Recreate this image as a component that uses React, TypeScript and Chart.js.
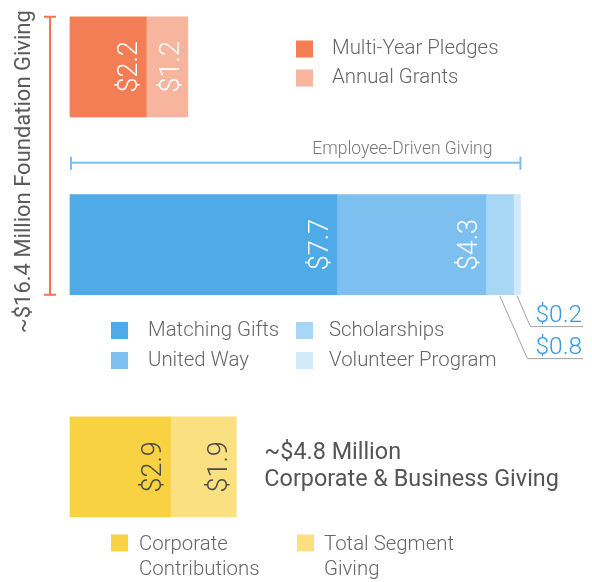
import React, { useEffect, useRef } from "react";
import { Chart, registerables } from "chart.js";

Chart.register(...registerables);

// Category rows (blank entries are spacer rows between the three bars)
const categories = [
  "Foundation Giving", "", "", "",
  "Employee-Driven Giving", "", "", "", "",
  "Corporate & Business Giving",
];

const foundationLabels = ["Multi-Year Pledges", "Annual Grants"];
const foundationValues = [2.2, 1.2];
const foundationColors = ["#F37D54", "#F6B59C"];

const employeeLabels = ["Matching Gifts", "United Way", "Scholarships", "Volunteer Program"];
const employeeValues = [7.7, 4.3, 0.8, 0.2];
const employeeColors = ["#4FAAE8", "#7DC0F0", "#A8D6F5", "#D2E9FA"];

const corporateLabels = ["Corporate Contributions", "Total Segment Giving"];
const corporateValues = [2.9, 1.9];
const corporateColors = ["#F9D244", "#FBE081"];

const FONT = "Roboto, 'Liberation Sans', Arial, sans-serif";

type Group = {
  row: number;
  labels: string[];
  values: number[];
  colors: string[];
  textColor: string;
};

const groups: Group[] = [
  { row: categories.indexOf("Foundation Giving"), labels: foundationLabels, values: foundationValues, colors: foundationColors, textColor: "#ffffff" },
  { row: categories.indexOf("Employee-Driven Giving"), labels: employeeLabels, values: employeeValues, colors: employeeColors, textColor: "#ffffff" },
  { row: categories.indexOf("Corporate & Business Giving"), labels: corporateLabels, values: corporateValues, colors: corporateColors, textColor: "#4a4a4a" },
];

const money = (v: number) => "$" + v.toFixed(1);

// legend layouts (positions only)
const legendLayouts = [
  { cols: [296], textGap: [19], rows: [49, 78], perCol: 2, lineH: 25, wrap: 1000 },
  { cols: [111, 296], textGap: [20, 16], rows: [330.5, 360.5], perCol: 2, lineH: 25, wrap: 1000 },
  { cols: [111, 297], textGap: [11, 10], rows: [545], perCol: 1, lineH: 25, wrap: 140 },
];

const infographicPlugin = {
  id: "infographic",
  afterDraw(chart: any) {
    const ctx: CanvasRenderingContext2D = chart.ctx;
    ctx.save();

    const segs = chart.data.datasets.map((ds: any, di: number) => {
      const bar = chart.getDatasetMeta(di).data[ds.row];
      const p = bar.getProps(["x", "y", "base", "height"], true);
      return {
        ds,
        x0: Math.min(p.base, p.x),
        x1: Math.max(p.base, p.x),
        yc: p.y,
        top: p.y - p.height / 2,
        bottom: p.y + p.height / 2,
      };
    });
    const groupSegs = groups.map((_, gi) => segs.filter((s: any) => s.ds.groupIndex === gi));

    // value labels inside segments
    segs.forEach((s: any) => {
      const w = s.x1 - s.x0;
      if (w < 35) return;
      ctx.save();
      ctx.translate(s.x1 - 9, s.yc);
      ctx.rotate(-Math.PI / 2);
      ctx.font = `300 27px ${FONT}`;
      ctx.fillStyle = groups[s.ds.groupIndex].textColor;
      ctx.textAlign = "center";
      ctx.textBaseline = "alphabetic";
      ctx.fillText(money(s.ds.value), 0, 0);
      ctx.restore();
    });

    // callouts for thin segments
    groupSegs.forEach((gs: any[]) => {
      const small = gs.filter((s) => s.x1 - s.x0 < 35).reverse();
      if (!small.length) return;
      const barEnd = Math.max(...gs.map((s) => s.x1));
      small.forEach((s, k) => {
        const midX = (s.x0 + s.x1) / 2;
        const elbowY = s.bottom + 32 + 32 * k;
        const elbowX = barEnd + 10 - 3 * k;
        const textX = barEnd + 15;
        ctx.font = `300 24.5px ${FONT}`;
        const tw = ctx.measureText(money(s.ds.value)).width;
        ctx.strokeStyle = "#a0a0a0";
        ctx.lineWidth = 1;
        ctx.beginPath();
        ctx.moveTo(midX, s.bottom + 1);
        ctx.lineTo(elbowX, elbowY);
        ctx.lineTo(textX + tw + 1, elbowY);
        ctx.stroke();
        ctx.fillStyle = "#3399E6";
        ctx.textAlign = "left";
        ctx.textBaseline = "alphabetic";
        ctx.fillText(money(s.ds.value), textX, elbowY - 5);
      });
    });

    // Foundation bracket (orange) spanning foundation + employee bars
    const fTop = groupSegs[0][0].top;
    const fBottom = groupSegs[1][0].bottom;
    const bx = 50;
    ctx.strokeStyle = "#F3744B";
    ctx.lineWidth = 2;
    ctx.beginPath();
    ctx.moveTo(bx, fTop);
    ctx.lineTo(bx, fBottom);
    ctx.moveTo(bx - 6, fTop);
    ctx.lineTo(bx + 6, fTop);
    ctx.moveTo(bx - 6, fBottom);
    ctx.lineTo(bx + 6, fBottom);
    ctx.stroke();

    const foundationTotal = [...foundationValues, ...employeeValues].reduce((a, b) => a + b, 0);
    ctx.save();
    ctx.translate(30, (fTop + fBottom) / 2 + 16);
    ctx.rotate(-Math.PI / 2);
    ctx.font = `400 22px ${FONT}`;
    ctx.fillStyle = "#5a5a5a";
    ctx.textAlign = "center";
    ctx.textBaseline = "alphabetic";
    ctx.fillText(`~$${foundationTotal.toFixed(1)} Million ${categories[groups[0].row]}`, 0, 0);
    ctx.restore();

    // Employee-driven bracket (blue)
    const eSegs = groupSegs[1];
    const ex0 = Math.min(...eSegs.map((s: any) => s.x0)) + 1;
    const ex1 = Math.max(...eSegs.map((s: any) => s.x1));
    const ey = eSegs[0].top - 32;
    ctx.strokeStyle = "#7ABEEF";
    ctx.lineWidth = 2;
    ctx.beginPath();
    ctx.moveTo(ex0, ey);
    ctx.lineTo(ex1, ey);
    ctx.moveTo(ex0, ey - 6);
    ctx.lineTo(ex0, ey + 7);
    ctx.moveTo(ex1, ey - 6);
    ctx.lineTo(ex1, ey + 7);
    ctx.stroke();
    ctx.font = `300 17.5px ${FONT}`;
    ctx.fillStyle = "#777777";
    ctx.textAlign = "right";
    ctx.textBaseline = "alphabetic";
    ctx.fillText(categories[groups[1].row], ex1 - 28, ey - 9);

    // Corporate total text
    const cSegs = groupSegs[2];
    const cx1 = Math.max(...cSegs.map((s: any) => s.x1));
    const corpTotal = corporateValues.reduce((a, b) => a + b, 0);
    ctx.font = `400 23.4px ${FONT}`;
    ctx.fillStyle = "#555555";
    ctx.textAlign = "left";
    ctx.textBaseline = "middle";
    ctx.fillText(`~$${corpTotal.toFixed(1)} Million`, cx1 + 28, cSegs[0].yc - 14);
    ctx.fillText(categories[groups[2].row], cx1 + 28, cSegs[0].yc + 13);

    // legends
    groups.forEach((g, gi) => {
      const lay = legendLayouts[gi];
      g.labels.forEach((label, si) => {
        const col = Math.floor(si / lay.perCol);
        const row = si % lay.perCol;
        const sx = lay.cols[col];
        const cy = lay.rows[row];
        ctx.fillStyle = g.colors[si];
        ctx.fillRect(sx, cy - 8.5 - (lay.perCol === 1 ? 2 : 0), 17, 17);
        ctx.font = `300 20.4px ${FONT}`;
        ctx.fillStyle = "#666666";
        ctx.textAlign = "left";
        ctx.textBaseline = "middle";
        const words = label.split(" ");
        const lines: string[] = [];
        let cur = "";
        words.forEach((w) => {
          const t = cur ? cur + " " + w : w;
          if (ctx.measureText(t).width > lay.wrap && cur) {
            lines.push(cur);
            cur = w;
          } else cur = t;
        });
        if (cur) lines.push(cur);
        lines.forEach((ln, li) => {
          ctx.fillText(ln, sx + 17 + lay.textGap[col], cy + li * lay.lineH);
        });
      });
    });

    ctx.restore();
  },
};

export default function App() {
  const canvasRef = useRef<HTMLCanvasElement | null>(null);

  useEffect(() => {
    if (!canvasRef.current) return;
    const datasets = groups.flatMap((g, gi) =>
      g.labels.map((label, si) => ({
        label,
        data: categories.map((_, ci) => (ci === g.row ? g.values[si] : null)),
        backgroundColor: g.colors[si],
        borderWidth: 0,
        barThickness: 100,
        clip: false,
        groupIndex: gi,
        row: g.row,
        value: g.values[si],
      }))
    );
    const chart = new Chart(canvasRef.current, {
      type: "bar",
      data: { labels: categories, datasets: datasets as any },
      options: {
        indexAxis: "y",
        responsive: false,
        animation: false,
        events: [],
        layout: { padding: { left: 70, right: 2.25, top: 44.6, bottom: 92.9 } },
        scales: {
          x: { stacked: true, min: 0, max: 15, display: false },
          y: { stacked: true, display: false },
        },
        plugins: {
          legend: { display: false },
          tooltip: { enabled: false },
          title: { display: false },
        },
      },
      plugins: [infographicPlugin],
    });
    return () => chart.destroy();
  }, []);

  return (
    <div style={{ position: "fixed", left: 0, top: 0, width: 592, height: 582, background: "#ffffff" }}>
      <canvas ref={canvasRef} width={592} height={582} style={{ display: "block" }} />
    </div>
  );
}
